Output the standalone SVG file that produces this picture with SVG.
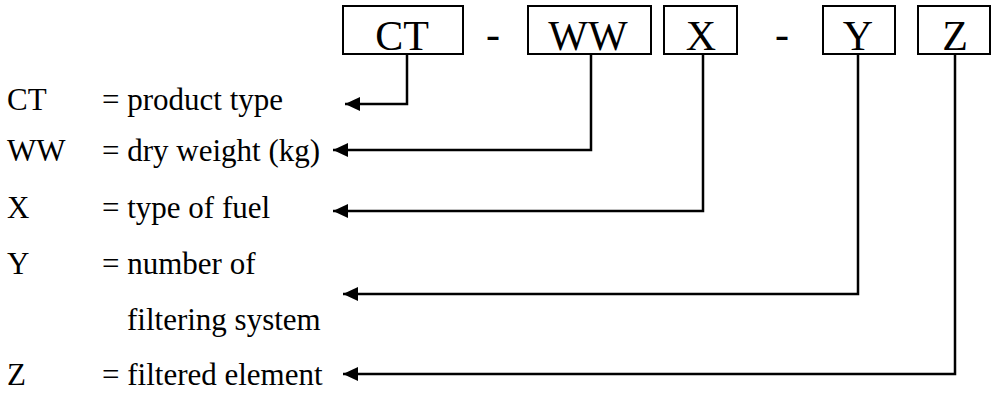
<svg xmlns="http://www.w3.org/2000/svg" width="992" height="394" viewBox="0 0 992 394">
<style>
.box{fill:#fff;stroke:#000;stroke-width:2}
.bt{font-family:"Liberation Serif","Times New Roman",serif;font-size:42px;fill:#000;text-anchor:middle}
.lt{font-family:"Liberation Serif","Times New Roman",serif;font-size:31px;fill:#000}
.conn{fill:none;stroke:#000;stroke-width:2.5}
</style>
<defs>
<marker id="ah" markerUnits="userSpaceOnUse" markerWidth="16" markerHeight="14" refX="15" refY="7" orient="auto-start-reverse">
<path d="M0,0 L15,7 L0,14 z" fill="#000"/>
</marker>
</defs>
<g id="node-CT"><rect class="box" x="343" y="6" width="120" height="48"/><text class="bt" x="402" y="50">CT</text></g>
<text class="bt" x="493" y="48">-</text>
<g id="node-WW"><rect class="box" x="528" y="6" width="123" height="48"/><text class="bt" x="588" y="50">WW</text></g>
<g id="node-X"><rect class="box" x="664" y="6" width="73" height="48"/><text class="bt" x="701" y="50">X</text></g>
<text class="bt" x="782" y="48">-</text>
<g id="node-Y"><rect class="box" x="823" y="6" width="72" height="48"/><text class="bt" x="858" y="50">Y</text></g>
<g id="node-Z"><rect class="box" x="918" y="6" width="72" height="48"/><text class="bt" x="955" y="50">Z</text></g>
<g id="legend">
<text class="lt" x="7" y="110">CT</text><text class="lt" x="102" y="110">= product type</text>
<text class="lt" x="7" y="161">WW</text><text class="lt" x="102" y="161">= dry weight (kg)</text>
<text class="lt" x="7" y="218">X</text><text class="lt" x="102" y="218">= type of fuel</text>
<text class="lt" x="7" y="274">Y</text><text class="lt" x="102" y="274">= number of</text>
<text class="lt" x="127" y="330">filtering system</text>
<text class="lt" x="7" y="385">Z</text><text class="lt" x="102" y="385">= filtered element</text>
</g>
<g id="connectors">
<path class="conn" marker-start="url(#ah)" d="M345,104 H407 V54"/>
<path class="conn" marker-start="url(#ah)" d="M333,150 H591 V54"/>
<path class="conn" marker-start="url(#ah)" d="M333,211 H703 V54"/>
<path class="conn" marker-start="url(#ah)" d="M343,294 H858 V54"/>
<path class="conn" marker-start="url(#ah)" d="M343,374 H955 V54"/>
</g>
</svg>
